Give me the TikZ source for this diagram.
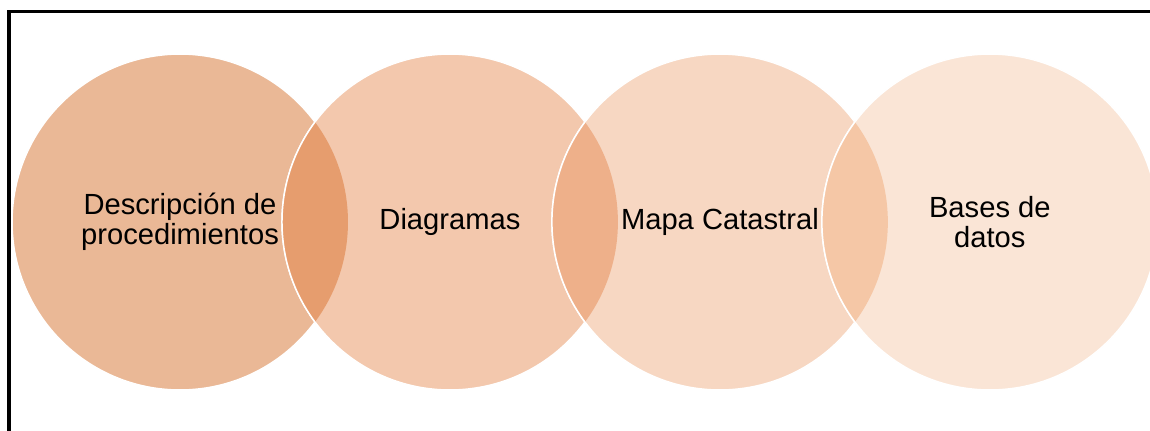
\documentclass[tikz,border=0pt]{standalone}
\usepackage{fontspec}
\setmainfont{Liberation Sans}
\usetikzlibrary{positioning}

\definecolor{vennA}{HTML}{EAB896}
\definecolor{vennB}{HTML}{F3C8AD}
\definecolor{vennC}{HTML}{F7D7C2}
\definecolor{vennD}{HTML}{FAE5D6}
\definecolor{lensAB}{HTML}{E69D6E}
\definecolor{lensBC}{HTML}{EEB08A}
\definecolor{lensCD}{HTML}{F5C7A6}

\begin{document}
\begin{tikzpicture}[x=0.02cm, y=-0.02cm,
    venn/.style={circle, draw=white, line width=0.85pt, minimum size=6.72cm, inner sep=0pt, outer sep=0pt, align=center, font=\fontsize{16.6pt}{17pt}\selectfont},
    rim/.style={draw=white, line width=0.85pt}]

    \useasboundingbox (0,0) rectangle (1150,430);

    % Frame
    \draw [line width=2.1pt] (9.2,10) -- (9.2,440);
    \draw [line width=1.4pt] (7.5,11.3) -- (1160,11.3);

    % Circles
    \node [venn, fill=vennA] (desc) at (180,222) {Descripción de\\procedimientos};
    \node [venn, fill=vennB, right=-1.32cm of desc] (diag) {Diagramas};
    \node [venn, fill=vennC, right=-1.32cm of diag] (mapa) {Mapa Catastral};
    \node [venn, fill=vennD, right=-1.32cm of mapa] (bases) {Bases de\\datos};

    % Overlaps
    \begin{scope}
      \clip (desc.center) circle (3.36cm);
      \fill [lensAB] (diag.center) circle (3.36cm);
      \draw [rim] (diag.center) circle (3.36cm);
    \end{scope}
    \begin{scope}
      \clip (diag.center) circle (3.36cm);
      \fill [lensBC] (mapa.center) circle (3.36cm);
      \draw [rim] (mapa.center) circle (3.36cm);
    \end{scope}
    \begin{scope}
      \clip (mapa.center) circle (3.36cm);
      \fill [lensCD] (bases.center) circle (3.36cm);
      \draw [rim] (bases.center) circle (3.36cm);
    \end{scope}

\end{tikzpicture}
\end{document}
